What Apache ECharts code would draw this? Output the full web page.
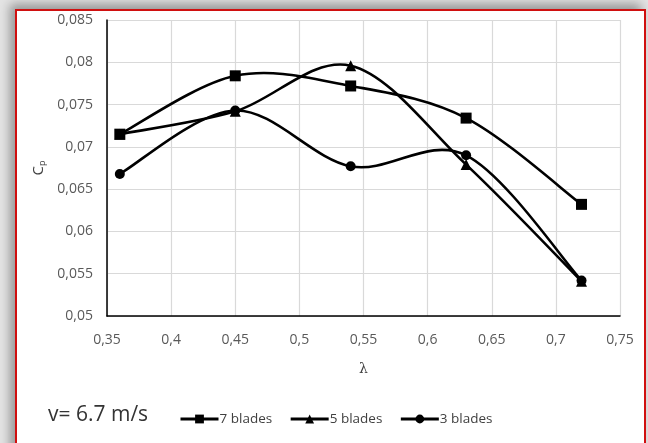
<!DOCTYPE html>
<html>
<head>
<meta charset="utf-8">
<script src="https://cdn.jsdelivr.net/npm/echarts@6/dist/echarts.min.js"></script>
<style>
  html, body { margin: 0; padding: 0; width: 648px; height: 443px; overflow: hidden; background: #ffffff; }
  #bg { position: absolute; left: 0; top: 0; width: 648px; height: 443px; background: #e4e4e4; }
  #frame { position: absolute; left: 15px; top: 9px; width: 627px; height: 460px;
           border: 2px solid #d01010; background: #ffffff;
           box-shadow: -5px -5px 10px rgba(0,0,0,0.35); }
  #chart { position: absolute; left: 0; top: 0; width: 648px; height: 443px; }
</style>
</head>
<body>
<div id="bg"></div>
<div id="frame"></div>
<div id="chart"></div>
<script>
const lambdaValues = [0.36, 0.45, 0.54, 0.63, 0.72];
const blades7 = [0.0715, 0.0784, 0.0772, 0.0734, 0.0632];
const blades5 = [0.0715, 0.0742, 0.0796, 0.0679, 0.0541];
const blades3 = [0.0668, 0.0743, 0.0677, 0.0690, 0.0542];
const seriesNames = ['7 blades', '5 blades', '3 blades'];
const speedLabel = 'v= 6.7 m/s';

function pairs(xs, ys) { return xs.map((x, i) => [x, ys[i]]); }
function fmt(v) { return String(+v.toFixed(4)).replace('.', ','); }

const font = 'Open Sans';

// Excel-style smoothed curve (Catmull-Rom bezier) drawn through the axes' own coordinate mapping
function smoothCurve(name, ys) {
  return {
    name: name + ' curve', type: 'custom', z: 2, silent: true,
    data: pairs(lambdaValues, ys),
    encode: { x: 0, y: 1 },
    renderItem: function (params, api) {
      const i = params.dataIndex;
      const n = lambdaValues.length;
      if (i >= n - 1) return null;
      const P = lambdaValues.map((x, k) => api.coord([x, ys[k]]));
      const p0 = P[Math.max(i - 1, 0)], p1 = P[i], p2 = P[i + 1], p3 = P[Math.min(i + 2, n - 1)];
      const t = 1 / 6;
      return {
        type: 'bezierCurve',
        shape: {
          x1: p1[0], y1: p1[1], x2: p2[0], y2: p2[1],
          cpx1: p1[0] + (p2[0] - p0[0]) * t, cpy1: p1[1] + (p2[1] - p0[1]) * t,
          cpx2: p2[0] - (p3[0] - p1[0]) * t, cpy2: p2[1] - (p3[1] - p1[1]) * t
        },
        style: { stroke: '#000', lineWidth: 2.6, fill: null }
      };
    }
  };
}

function markers(name, ys, symbol, size) {
  return {
    name: name, type: 'line', data: pairs(lambdaValues, ys), z: 3,
    symbol: symbol, symbolSize: size, showSymbol: true,
    itemStyle: { color: '#000' },
    lineStyle: { color: '#000', width: 0, opacity: 0 }
  };
}

const chart = echarts.init(document.getElementById('chart'), null, { renderer: 'canvas' });

chart.setOption({
  backgroundColor: 'transparent',
  animation: false,
  textStyle: { fontFamily: font },
  title: {
    text: speedLabel, left: 43, top: 400,
    textStyle: { fontFamily: font, fontSize: 21, fontWeight: 'normal', color: '#333' }
  },
  legend: {
    data: seriesNames, left: 174, top: 407, itemWidth: 38, itemHeight: 11, itemGap: 17,
    lineStyle: { color: '#000', width: 3, opacity: 1 },
    itemStyle: { color: '#000' },
    textStyle: { fontFamily: font, fontSize: 13.5, color: '#404040', padding: [0, 0, 0, -4] }
  },
  grid: { left: 107, right: 28, top: 20, bottom: 127, containLabel: false },
  xAxis: {
    type: 'value', min: 0.35, max: 0.75, interval: 0.05,
    name: 'λ', nameLocation: 'middle', nameGap: 46,
    nameTextStyle: { fontFamily: 'DejaVu Serif', fontSize: 14, color: '#404040' },
    axisLine: { show: true, onZero: false, lineStyle: { color: '#000', width: 1.5 } },
    axisTick: { show: false },
    axisLabel: { formatter: fmt, fontFamily: font, fontSize: 14, color: '#595959', margin: 17 },
    splitLine: { show: true, lineStyle: { color: '#d9d9d9', width: 1.2 } }
  },
  yAxis: {
    type: 'value', min: 0.05, max: 0.085, interval: 0.005,
    name: '{c|C}{p|p}', nameLocation: 'middle', nameGap: 60, nameRotate: 90,
    nameTextStyle: {
      rich: {
        c: { fontFamily: font, fontSize: 15, color: '#404040' },
        p: { fontFamily: font, fontSize: 9, color: '#404040', verticalAlign: 'bottom', padding: [6, 0, 0, 0] }
      }
    },
    axisLine: { show: true, onZero: false, lineStyle: { color: '#000', width: 1.5 } },
    axisTick: { show: false },
    axisLabel: { formatter: fmt, fontFamily: font, fontSize: 14, color: '#595959', margin: 14 },
    splitLine: { show: true, lineStyle: { color: '#d9d9d9', width: 1.2 } }
  },
  series: [
    smoothCurve(seriesNames[0], blades7),
    smoothCurve(seriesNames[1], blades5),
    smoothCurve(seriesNames[2], blades3),
    markers(seriesNames[0], blades7, 'rect', 11),
    markers(seriesNames[1], blades5, 'triangle', 11),
    markers(seriesNames[2], blades3, 'circle', 10)
  ]
});
</script>
</body>
</html>
